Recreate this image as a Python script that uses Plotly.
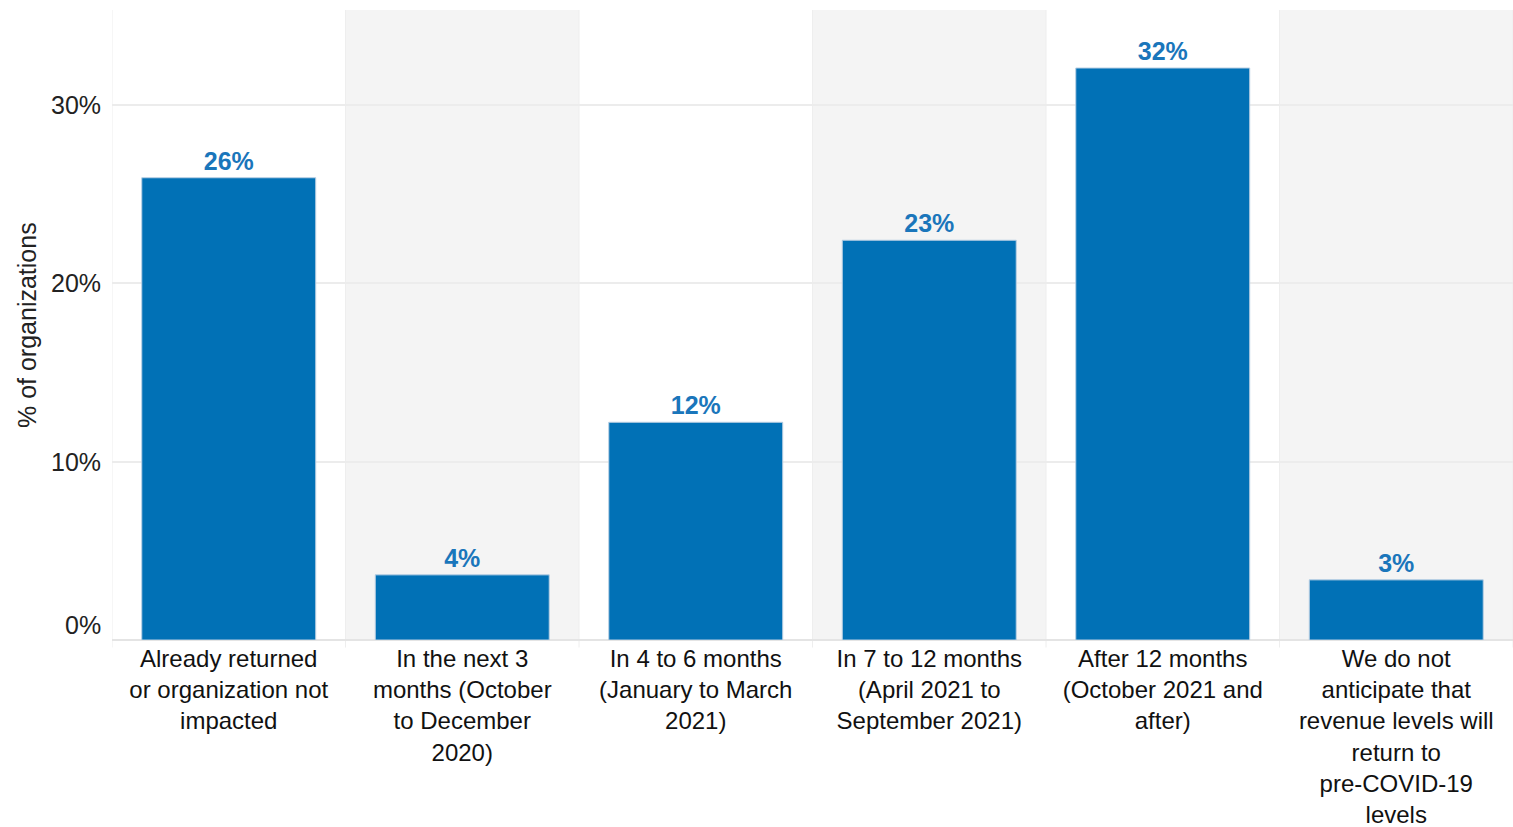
import plotly.graph_objects as go

categories = [
    "Already returned<br>or organization not<br>impacted",
    "In the next 3<br>months (October<br>to December<br>2020)",
    "In 4 to 6 months<br>(January to March<br>2021)",
    "In 7 to 12 months<br>(April 2021 to<br>September 2021)",
    "After 12 months<br>(October 2021 and<br>after)",
    "We do not<br>anticipate that<br>revenue levels will<br>return to<br>pre-COVID-19<br>levels",
]
values = [25.9, 3.65, 12.2, 22.4, 32.05, 3.37]
value_labels = ["26%", "4%", "12%", "23%", "32%", "3%"]
y_ticks = [0, 10, 20, 30]
y_tick_labels = ["0%", "10%", "20%", "30%"]
y_title = "% of organizations"

FONT = "Liberation Sans, Arial, sans-serif"
BAR = "#0171b6"

fig = go.Figure()
fig.add_trace(go.Bar(
    x=list(range(len(categories))),
    y=values,
    text=value_labels,
    textposition="outside",
    textfont=dict(family=FONT, size=25, color="#1a76bb", weight="bold"),
    marker=dict(color=BAR, line=dict(color="#b9cfe3", width=1)),
    width=0.745,
    cliponaxis=False,
    hoverinfo="skip",
))

shapes = []
n = len(categories)
for i in range(n):
    if i % 2 == 1:
        shapes.append(dict(type="rect", xref="x", yref="paper", x0=i - 0.5, x1=i + 0.5,
                           y0=0, y1=1, fillcolor="#f4f4f4", line=dict(width=0), layer="below"))
for i in range(n + 1):
    shapes.append(dict(type="line", xref="x", yref="paper", x0=i - 0.5, x1=i - 0.5,
                       y0=-0.012, y1=1, line=dict(color="#eeeeee", width=1), layer="below"))

annotations = []
for v, t in zip(y_ticks, y_tick_labels):
    annotations.append(dict(x=0, xref="paper", y=v, yref="y", text=t, showarrow=False,
                            xanchor="right", yanchor="middle", xshift=-9,
                            yshift=15 if v == 0 else 0,
                            font=dict(family=FONT, size=25, color="#222222")))
annotations.append(dict(x=0, xref="paper", y=0.5, yref="paper", text=y_title, showarrow=False,
                        textangle=-90, xanchor="center", yanchor="middle", xshift=-85,
                        font=dict(family=FONT, size=25, color="#222222")))

fig.update_layout(
    width=1513, height=827,
    margin=dict(l=112, r=0, t=10, b=187),
    paper_bgcolor="white", plot_bgcolor="rgba(0,0,0,0)",
    showlegend=False,
    shapes=shapes,
    annotations=annotations,
    xaxis=dict(
        tickmode="array", tickvals=list(range(n)), ticktext=categories,
        range=[-0.5, n - 0.5], showgrid=False, zeroline=False,
        showline=False, ticks="", tickangle=0, ticklabelstandoff=2,
        tickfont=dict(family=FONT, size=24, color="#111111"),
    ),
    yaxis=dict(
        range=[0, 35.3], tickvals=y_ticks, showticklabels=False,
        showgrid=True, gridcolor="#ececec", gridwidth=1.5,
        zeroline=True, zerolinecolor="#e4e4e4", zerolinewidth=1.5,
    ),
    bargap=0.255,
)
fig.update_yaxes(automargin=False)
fig.update_xaxes(automargin=False)

fig.write_html("out.html")
